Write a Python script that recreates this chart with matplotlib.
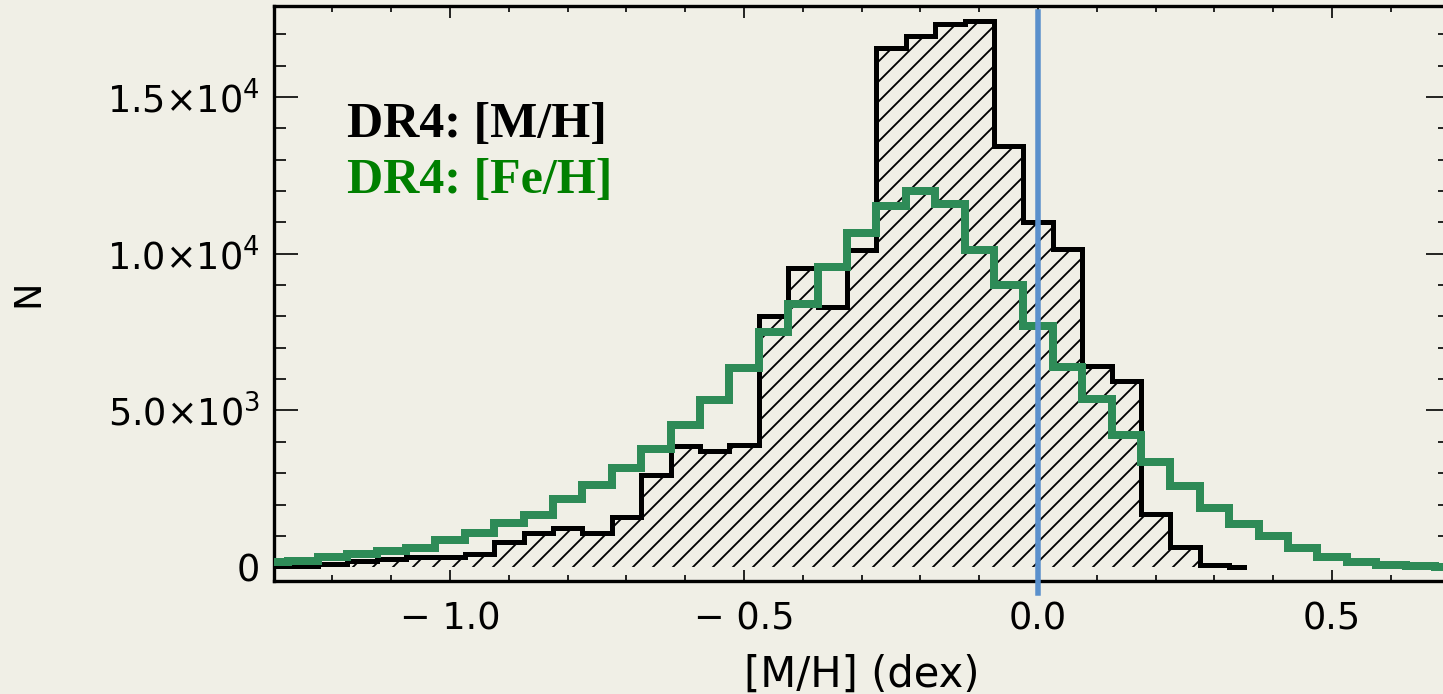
import numpy as np
import matplotlib
matplotlib.use("Agg")
import matplotlib.pyplot as plt
from matplotlib.ticker import MultipleLocator

# ----------------------------------  Histogram data ----------------------------------

# bin centres (dex), bin width 0.05
mh_centers = [-1.30, -1.25, -1.20, -1.15, -1.10, -1.05, -1.00, -0.95, -0.90, -0.85,
              -0.80, -0.75, -0.70, -0.65, -0.60, -0.55, -0.50, -0.45, -0.40, -0.35,
              -0.30, -0.25, -0.20, -0.15, -0.10, -0.05, 0.00, 0.05, 0.10, 0.15,
              0.20, 0.25, 0.30, 0.35]
mh_counts = [40, 50, 100, 200, 260, 320, 340, 420, 795, 1080,
             1240, 1100, 1610, 2950, 3870, 3700, 3900, 8020, 9550, 8300,
             10110, 16570, 16940, 17330, 17420, 13430, 11010, 10140, 6420, 5930,
             1705, 645, 60, 20]

feh_centers = [-1.30, -1.25, -1.20, -1.15, -1.10, -1.05, -1.00, -0.95, -0.90, -0.85,
               -0.80, -0.75, -0.70, -0.65, -0.60, -0.55, -0.50, -0.45, -0.40, -0.35,
               -0.30, -0.25, -0.20, -0.15, -0.10, -0.05, 0.00, 0.05, 0.10, 0.15,
               0.20, 0.25, 0.30, 0.35, 0.40, 0.45, 0.50, 0.55, 0.60, 0.65,
               0.70, 0.75]
feh_counts = [175, 200, 315, 420, 525, 600, 865, 1080, 1400, 1665,
              2170, 2620, 3180, 3770, 4530, 5330, 6340, 7505, 8410, 9575,
              10670, 11530, 12000, 11575, 10110, 8995, 7700, 6380, 5360, 4215,
              3365, 2600, 1875, 1375, 1005, 600, 335, 155, 70, 40,
              20, 10]

solar_line = [0.0, 0.0]
solar_span = [-820, 17700]

y_ticks = [0, 5000, 10000, 15000]
y_ticklabels = ['0', r'5.0$\times$10$^{3}$', r'1.0$\times$10$^{4}$', r'1.5$\times$10$^{4}$']
x_ticks = [-1.0, -0.5, 0.0, 0.5]
x_ticklabels = ['− 1.0', '− 0.5', '0.0', '0.5']

# -----------------------------------------------  Plot ---------------------------------------------------------

bg = '#f0efe6'
plt.rcParams['hatch.linewidth'] = 1.1
plt.rcParams['mathtext.fontset'] = 'dejavusans'

fig = plt.figure(figsize=(1443 / 120, 694 / 120), dpi=120, facecolor=bg)
W, H = 1443.0, 694.0
ax = fig.add_axes([273.6 / W, (H - 581) / H, 1176 / W, 575 / H], facecolor=bg)

# M/H histogram: hatched + black steps
ax.fill_between(mh_centers, 0, mh_counts, step='mid', facecolor='none',
                edgecolor='black', hatch='//', linewidth=0, zorder=1)
ax.step(mh_centers, mh_counts, where='mid', color='black', lw=3,
        solid_joinstyle='miter', zorder=2)

# Fe/H histogram
ax.step(feh_centers, feh_counts, where='mid', color='#2e8b57', lw=4.8,
        solid_joinstyle='miter', zorder=3)

# solar reference line
ax.plot(solar_line, solar_span, color='#5a90cc', lw=3.3, zorder=4, clip_on=False)

ax.set_xlim(-1.3, 0.7)
ax.set_ylim(-440, 17900)

ax.set_xticks(x_ticks)
ax.set_xticklabels(x_ticklabels)
ax.set_yticks(y_ticks)
ax.set_yticklabels(y_ticklabels)
ax.xaxis.set_minor_locator(MultipleLocator(0.1))
ax.yaxis.set_minor_locator(MultipleLocator(1000))

ax.tick_params(axis='both', which='both', direction='in', top=True, right=True,
               width=1.0, colors='black', labelsize=22)
ax.tick_params(axis='y', which='major', length=14.4, pad=8)
ax.tick_params(axis='y', which='minor', length=7.2)
ax.tick_params(axis='x', which='major', length=6.9, pad=12)
ax.tick_params(axis='x', which='minor', length=3.5)

for sp in ax.spines.values():
    sp.set_linewidth(2.0)

ax.set_xlabel('[M/H] (dex)', fontsize=25, va='center')
ax.xaxis.set_label_coords(0.5, -94 / 575)
ax.set_ylabel('N', fontsize=22, va='center')
ax.yaxis.set_label_coords((28 - 273.6) / 1176, 0.5)

ax.text(-1.175, 13710, 'DR4: [M/H]', color='black', fontsize=30,
        fontweight='bold', family='Liberation Serif', va='baseline')
ax.text(-1.175, 11925, 'DR4: [Fe/H]', color='green', fontsize=30,
        fontweight='bold', family='Liberation Serif', va='baseline')

plt.savefig('out.png', dpi=120, facecolor=bg)
